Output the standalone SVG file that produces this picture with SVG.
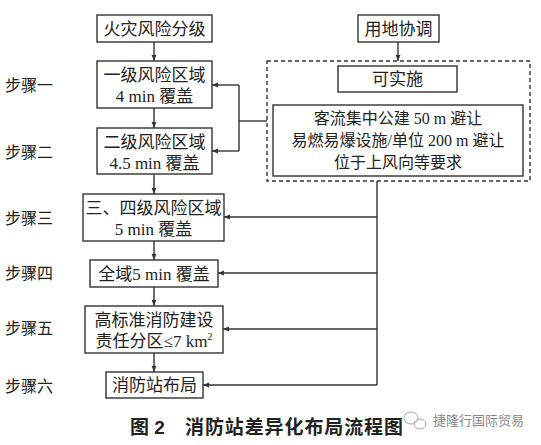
<svg xmlns="http://www.w3.org/2000/svg" width="541" height="445" viewBox="0 0 541 445">
<style>
.box{fill:#fff;stroke:#333;stroke-width:1.4}
.dash{fill:none;stroke:#333;stroke-width:1.4;stroke-dasharray:4,3}
.ln{fill:none;stroke:#333;stroke-width:1.4}
.t{font-family:"Liberation Serif","Noto Sans CJK SC",serif;font-size:17px;fill:#222;text-anchor:middle}
.s{font-family:"Liberation Serif","Noto Sans CJK SC",serif;font-size:16px;fill:#222;text-anchor:middle}
.step{font-family:"Noto Sans CJK SC",sans-serif;font-size:16px;fill:#222}
.cap{font-family:"Liberation Sans","Noto Sans CJK SC",sans-serif;font-size:19px;font-weight:bold;fill:#222}
.wm{font-family:"Noto Sans CJK SC",sans-serif;font-size:13px;fill:#888}
</style>
<defs>
<marker id="ah" viewBox="0 0 10 10" refX="10" refY="5" markerWidth="6" markerHeight="6" orient="auto" markerUnits="userSpaceOnUse">
<path d="M0,1 L10,5 L0,9 z" fill="#333"/>
</marker>
</defs>
<rect width="541" height="445" fill="#fff"/>

<g id="connectors">
<line class="ln" x1="154" y1="42" x2="154" y2="61" marker-end="url(#ah)"/>
<line class="ln" x1="154" y1="108" x2="154" y2="128" marker-end="url(#ah)"/>
<line class="ln" x1="154" y1="174" x2="154" y2="194" marker-end="url(#ah)"/>
<line class="ln" x1="154" y1="241" x2="154" y2="260" marker-end="url(#ah)"/>
<line class="ln" x1="154" y1="287" x2="154" y2="306" marker-end="url(#ah)"/>
<line class="ln" x1="154" y1="353" x2="154" y2="372" marker-end="url(#ah)"/>
<line class="ln" x1="398" y1="42" x2="398" y2="61" marker-end="url(#ah)"/>
<polyline class="ln" points="267,121 239,121"/>
<polyline class="ln" points="239,85 239,151"/>
<line class="ln" x1="239" y1="85" x2="212" y2="85" marker-end="url(#ah)"/>
<line class="ln" x1="239" y1="151" x2="212" y2="151" marker-end="url(#ah)"/>
<line class="ln" x1="377" y1="181" x2="377" y2="385"/>
<line class="ln" x1="377" y1="217" x2="224" y2="217" marker-end="url(#ah)"/>
<line class="ln" x1="377" y1="273" x2="218" y2="273" marker-end="url(#ah)"/>
<line class="ln" x1="377" y1="329" x2="223" y2="329" marker-end="url(#ah)"/>
<line class="ln" x1="377" y1="385" x2="203" y2="385" marker-end="url(#ah)"/>
</g>

<g id="n_fire">
<rect class="box" x="97" y="15" width="115" height="27"/>
<text class="t" x="154.5" y="34.5">火灾风险分级</text>
</g>
<g id="n_step1">
<rect class="box" x="97" y="61" width="115" height="47"/>
<text class="t" x="154.5" y="81">一级风险区域</text>
<text class="t" x="154.5" y="102">4 min 覆盖</text>
</g>
<g id="n_step2">
<rect class="box" x="97" y="128" width="115" height="46"/>
<text class="t" x="154.5" y="148">二级风险区域</text>
<text class="t" x="154.5" y="169">4.5 min 覆盖</text>
</g>
<g id="n_step3">
<rect class="box" x="83" y="194" width="141" height="47"/>
<text class="t" x="153.5" y="214">三、四级风险区域</text>
<text class="t" x="153.5" y="235">5 min 覆盖</text>
</g>
<g id="n_step4">
<rect class="box" x="90" y="260" width="128" height="27"/>
<text class="t" x="154" y="279.5">全域5 min 覆盖</text>
</g>
<g id="n_step5">
<rect class="box" x="85" y="306" width="138" height="47"/>
<text class="t" x="154" y="326">高标准消防建设</text>
<text class="t" x="154" y="347">责任分区≤7 km<tspan font-size="10" dy="-7">2</tspan></text>
</g>
<g id="n_step6">
<rect class="box" x="106" y="372" width="97" height="26"/>
<text class="t" x="154.5" y="391">消防站布局</text>
</g>
<g id="n_land">
<rect class="box" x="358" y="15" width="81" height="27"/>
<text class="t" x="398.5" y="34.5">用地协调</text>
</g>
<g id="n_group">
<rect class="dash" x="267" y="61" width="263" height="120"/>
</g>
<g id="n_ok">
<rect class="box" x="338" y="66" width="119" height="26"/>
<text class="t" x="397.5" y="85">可实施</text>
</g>
<g id="n_req">
<rect class="box" x="273" y="105" width="250" height="71"/>
<text class="s" x="398" y="124">客流集中公建 50 m 避让</text>
<text class="s" x="398" y="146">易燃易爆设施/单位 200 m 避让</text>
<text class="s" x="398" y="168">位于上风向等要求</text>
</g>

<g id="steps">
<text class="step" x="5" y="91">步骤一</text>
<text class="step" x="5" y="158">步骤二</text>
<text class="step" x="5" y="224">步骤三</text>
<text class="step" x="5" y="279">步骤四</text>
<text class="step" x="5" y="334">步骤五</text>
<text class="step" x="5" y="392">步骤六</text>
</g>

<g id="caption">
<text class="cap" x="130" y="434">图 2</text>
<text class="cap" x="185" y="434" textLength="218">消防站差异化布局流程图</text>
</g>
<g id="watermark">
<ellipse cx="411" cy="418" rx="7" ry="6" fill="none" stroke="#aaa" stroke-width="1"/>
<ellipse cx="420" cy="424" rx="6" ry="5" fill="none" stroke="#aaa" stroke-width="1"/>
<text class="wm" x="433" y="425">捷隆行国际贸易</text>
</g>
</svg>
